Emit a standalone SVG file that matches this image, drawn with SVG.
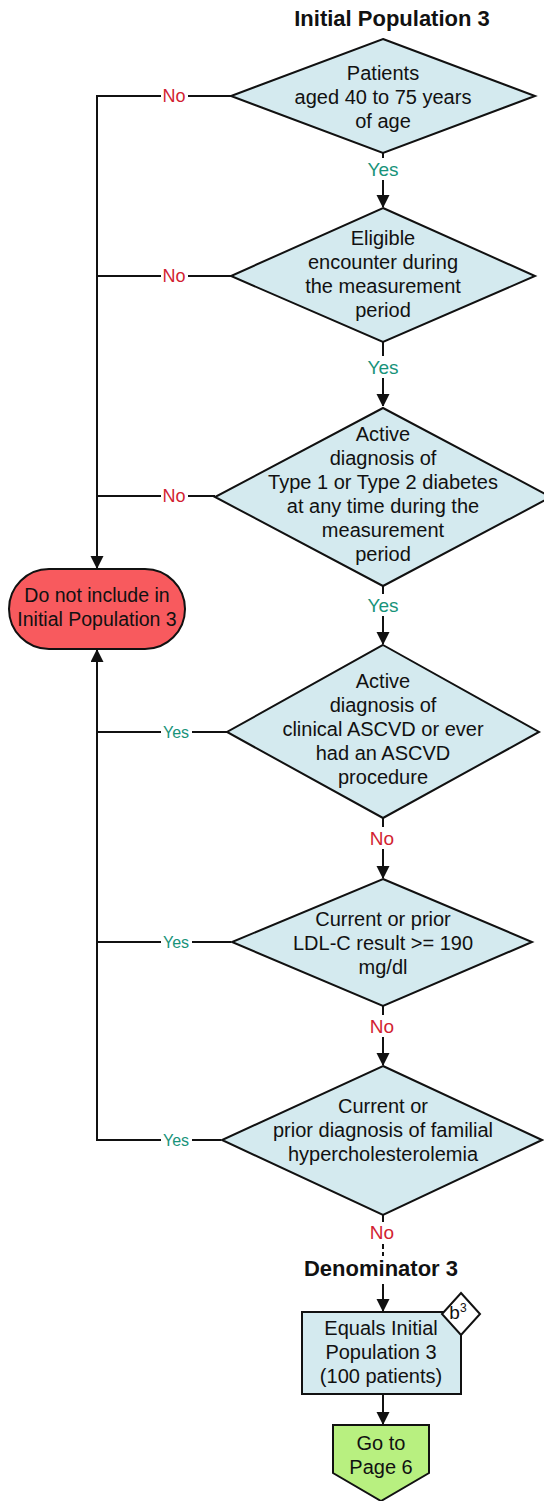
<svg xmlns="http://www.w3.org/2000/svg" width="544" height="1501" viewBox="0 0 544 1501">
<style>
text{font-family:"Liberation Sans",Arial,sans-serif;font-size:20px;text-anchor:middle;fill:#111}
.t{font-weight:bold;font-size:22px}
.dia{fill:#d4eaef;stroke:#111;stroke-width:2}
.ln{fill:none;stroke:#111;stroke-width:2}
.no{fill:#d21f32;font-size:19px}
.yes{fill:#17937a;font-size:19px}
.sy{font-size:16px}
.bg{fill:#fff}
</style>
<defs>
<marker id="ah" markerWidth="12" markerHeight="16" refX="12" refY="6.5" orient="auto" markerUnits="userSpaceOnUse">
<path d="M0,0 L13,6.5 L0,13 Z" fill="#111"/>
</marker>
</defs>
<rect width="544" height="1501" fill="#fff"/>
<g id="connectors">
<line class="ln" x1="383" y1="153" x2="383" y2="207" marker-end="url(#ah)"/>
<line class="ln" x1="383" y1="342" x2="383" y2="406" marker-end="url(#ah)"/>
<line class="ln" x1="383" y1="586" x2="383" y2="644" marker-end="url(#ah)"/>
<line class="ln" x1="383" y1="818" x2="383" y2="878" marker-end="url(#ah)"/>
<line class="ln" x1="383" y1="1006" x2="383" y2="1065" marker-end="url(#ah)"/>
<line class="ln" x1="383" y1="1215" x2="383" y2="1222"/>
<line class="ln" x1="383" y1="1244" x2="383" y2="1256" stroke-dasharray="5,3"/>
<line class="ln" x1="383" y1="1284" x2="383" y2="1311" marker-end="url(#ah)"/>
<line class="ln" x1="383" y1="1394" x2="383" y2="1424" marker-end="url(#ah)"/>
<polyline class="ln" points="231,96 97,96 97,568" marker-end="url(#ah)"/>
<line class="ln" x1="231" y1="276" x2="97" y2="276"/>
<line class="ln" x1="215" y1="496" x2="97" y2="496"/>
<polyline class="ln" points="221,1140 97,1140 97,650" marker-end="url(#ah)"/>
<line class="ln" x1="227" y1="732" x2="97" y2="732"/>
<line class="ln" x1="231" y1="942" x2="97" y2="942"/>
<rect class="bg" x="365" y="158" width="36" height="22"/>
<text class="yes" x="383" y="176">Yes</text>
<rect class="bg" x="365" y="356" width="36" height="22"/>
<text class="yes" x="383" y="374">Yes</text>
<rect class="bg" x="365" y="594" width="36" height="22"/>
<text class="yes" x="383" y="612">Yes</text>
<rect class="bg" x="368" y="827" width="30" height="22"/>
<text class="no" x="382" y="845">No</text>
<rect class="bg" x="368" y="1015" width="30" height="22"/>
<text class="no" x="382" y="1033">No</text>
<text class="no" x="382" y="1239">No</text>
<rect class="bg" x="161" y="85" width="27" height="22"/>
<text class="no" x="174" y="102" style="font-size:18px">No</text>
<rect class="bg" x="161" y="265" width="27" height="22"/>
<text class="no" x="174" y="282" style="font-size:18px">No</text>
<rect class="bg" x="161" y="485" width="27" height="22"/>
<text class="no" x="174" y="502" style="font-size:18px">No</text>
<rect class="bg" x="161" y="722" width="31" height="20"/>
<text class="yes sy" x="176" y="738">Yes</text>
<rect class="bg" x="161" y="932" width="31" height="20"/>
<text class="yes sy" x="176" y="948">Yes</text>
<rect class="bg" x="161" y="1130" width="31" height="20"/>
<text class="yes sy" x="176" y="1146">Yes</text>
</g>
<g id="title1"><text class="t" x="392" y="26">Initial Population 3</text></g>
<g id="d1">
<polygon class="dia" points="383,39 535,96 383,153 231,96"/>
<text x="383" y="80">Patients</text>
<text x="383" y="104">aged 40 to 75 years</text>
<text x="383" y="128">of age</text>
</g>
<g id="d2">
<polygon class="dia" points="383,208 535,276 383,342 231,276"/>
<text x="383" y="245">Eligible</text>
<text x="383" y="269">encounter during</text>
<text x="383" y="293">the measurement</text>
<text x="383" y="317">period</text>
</g>
<g id="d3">
<polygon class="dia" points="383,408 551,497 383,586 215,497"/>
<text x="383" y="441">Active</text>
<text x="383" y="465">diagnosis of</text>
<text x="383" y="489">Type 1 or Type 2 diabetes</text>
<text x="383" y="513">at any time during the</text>
<text x="383" y="537">measurement</text>
<text x="383" y="561">period</text>
</g>
<g id="exclude">
<rect x="9" y="569" width="176" height="80" rx="40" ry="40" fill="#f85a5e" stroke="#111" stroke-width="2"/>
<text x="97" y="602" style="font-size:19.5px">Do not include in</text>
<text x="97" y="626" style="font-size:19.5px">Initial Population 3</text>
</g>
<g id="d4">
<polygon class="dia" points="383,645 539,732 383,818 227,732"/>
<text x="383" y="688">Active</text>
<text x="383" y="712">diagnosis of</text>
<text x="383" y="736">clinical ASCVD or ever</text>
<text x="383" y="760">had an ASCVD</text>
<text x="383" y="784">procedure</text>
</g>
<g id="d5">
<polygon class="dia" points="383,879 532,942 383,1006 232,942"/>
<text x="383" y="926">Current or prior</text>
<text x="383" y="950">LDL-C result &gt;= 190</text>
<text x="383" y="974">mg/dl</text>
</g>
<g id="d6">
<polygon class="dia" points="383,1066 542,1140 383,1215 222,1140"/>
<text x="383" y="1113">Current or</text>
<text x="383" y="1137">prior diagnosis of familial</text>
<text x="383" y="1161">hypercholesterolemia</text>
</g>
<g id="title2"><text class="t" x="381" y="1276">Denominator 3</text></g>
<g id="denom">
<rect x="302" y="1312" width="159" height="82" fill="#d4eaef" stroke="#111" stroke-width="2"/>
<text x="381" y="1335">Equals Initial</text>
<text x="381" y="1359">Population 3</text>
<text x="381" y="1383">(100 patients)</text>
</g>
<g id="b3">
<polygon points="461,1293 480,1314 461,1335 442,1314" fill="#fff" stroke="#111" stroke-width="2"/>
<text x="458" y="1319" style="font-size:19px">b<tspan dy="-7" style="font-size:12px">3</tspan></text>
</g>
<g id="goto">
<polygon points="333,1425 429,1425 429,1473 381,1501 333,1473" fill="#b8f080" stroke="#111" stroke-width="2"/>
<text x="381" y="1450">Go to</text>
<text x="381" y="1474">Page 6</text>
</g>
</svg>
